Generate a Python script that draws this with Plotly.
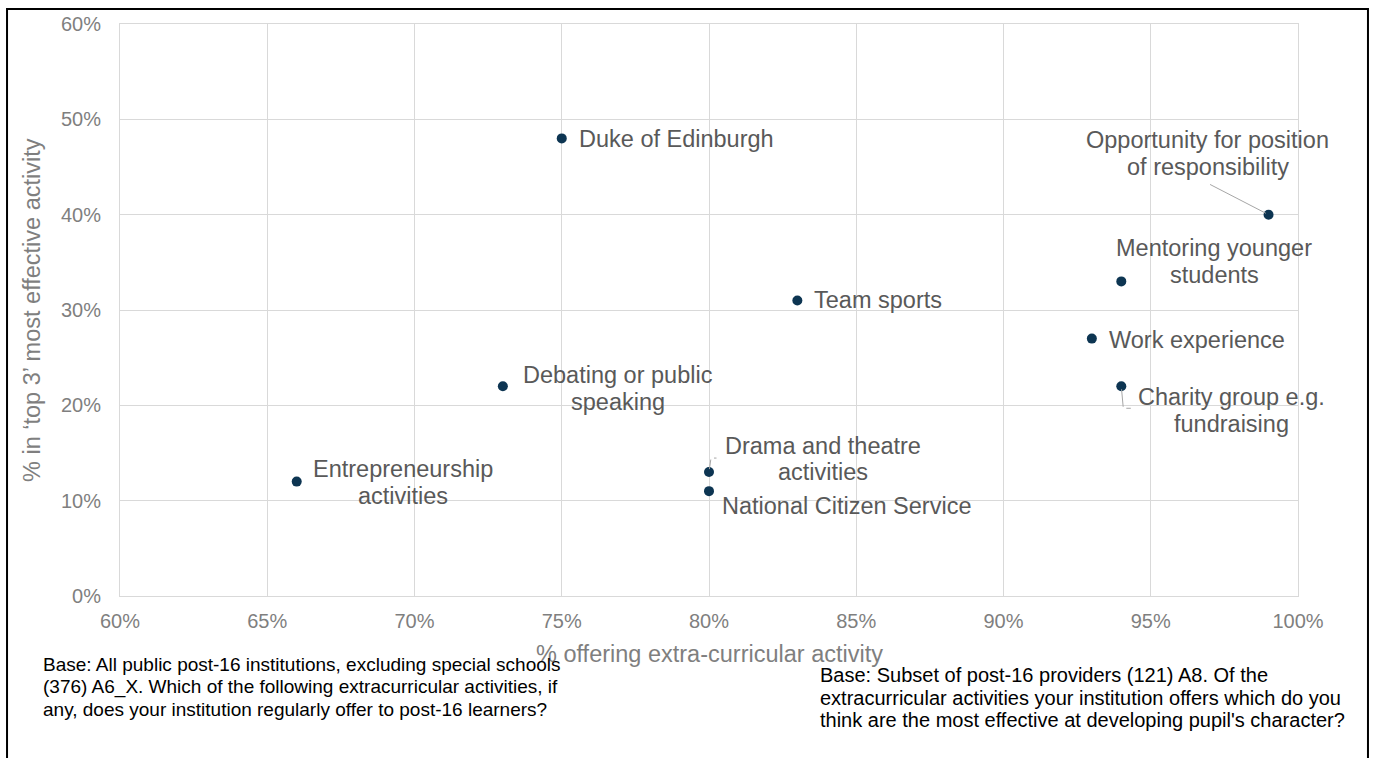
import plotly.graph_objects as go

# Extra-curricular activities: share offering each (x) vs share rating it top-3 most effective (y)
activities = [
    "Entrepreneurship activities",
    "Debating or public speaking",
    "Duke of Edinburgh",
    "Drama and theatre activities",
    "National Citizen Service",
    "Team sports",
    "Work experience",
    "Mentoring younger students",
    "Charity group e.g. fundraising",
    "Opportunity for position of responsibility",
]
pct_offering = [66, 73, 75, 80, 80, 83, 93, 94, 94, 99]
pct_top3 = [12, 22, 48, 13, 11, 31, 27, 33, 22, 40]

x_ticks = [60, 65, 70, 75, 80, 85, 90, 95, 100]
y_ticks = [0, 10, 20, 30, 40, 50, 60]

# label placement: wrapped lines, pixel shift of the block centre from the point, anchor
label_style = {
    "Entrepreneurship activities": (["Entrepreneurship", "activities"], 106, -1, "center"),
    "Debating or public speaking": (["Debating or public", "speaking"], 115, -2, "center"),
    "Duke of Edinburgh": (["Duke of Edinburgh"], 15, -1, "left"),
    "Drama and theatre activities": (["Drama and theatre", "activities"], 114, 13, "center"),
    "National Citizen Service": (["National Citizen Service"], 11, -15, "left"),
    "Team sports": (["Team sports"], 15, 0, "left"),
    "Work experience": (["Work experience"], 15, -1, "left"),
    "Mentoring younger students": (["Mentoring younger", "students"], 93, 20, "center"),
    "Charity group e.g. fundraising": (["Charity group e.g.", "fundraising"], 110, -24, "center"),
    "Opportunity for position of responsibility": (["Opportunity for position", "of responsibility"], -61, 61, "center"),
}
LINE_STEP = 26.5

# leader lines: (activity, shift x, shift y, tail dx, tail dy) in pixels
leaders = [
    ("Opportunity for position of responsibility", 0, 0, -60, -31),
    ("Drama and theatre activities", 0, 0, 2, -14),
    ("Drama and theatre activities", 2, 14, 7, 0),
    ("Charity group e.g. fundraising", 0, 0, 2, 22),
    ("Charity group e.g. fundraising", 2, -22, 9, 0),
]

TICK_GREY = "#7f7f7f"
LABEL_GREY = "#595959"
GRID = "#d9d9d9"
NAVY = "#0d3552"
FONT = "Liberation Sans, Arial, sans-serif"

fig = go.Figure()
fig.add_trace(go.Scatter(
    x=pct_offering, y=pct_top3, mode="markers",
    marker=dict(color=NAVY, size=10),
    hovertext=activities, hoverinfo="text", showlegend=False,
))

annotations = []
for name, xv, yv in zip(activities, pct_offering, pct_top3):
    lines, dx, dy, anchor = label_style[name]
    n = len(lines)
    for i, line in enumerate(lines):
        annotations.append(dict(
            x=xv, y=yv, xref="x", yref="y", text=line, showarrow=False,
            xanchor=anchor, yanchor="middle", xshift=dx,
            yshift=dy - (i - (n - 1) / 2) * LINE_STEP,
            font=dict(family=FONT, size=23.5, color=LABEL_GREY),
        ))

lookup = {n: (xv, yv) for n, xv, yv in zip(activities, pct_offering, pct_top3)}
for name, sx, sy, tx, ty in leaders:
    xv, yv = lookup[name]
    annotations.append(dict(
        x=xv, y=yv, xref="x", yref="y", text="", showarrow=True,
        arrowhead=0, arrowwidth=1, arrowcolor="#a6a6a6",
        ax=tx, ay=ty, xshift=sx, yshift=sy, standoff=3,
    ))

# axis titles
annotations.append(dict(
    x=0.5, y=0, xref="paper", yref="paper", yshift=-58, text="% offering extra-curricular activity",
    showarrow=False, xanchor="center", yanchor="middle",
    font=dict(family=FONT, size=23.5, color=TICK_GREY),
))
annotations.append(dict(
    x=0, y=0.5, xref="paper", yref="paper", xshift=-88, text="% in \u2018top 3\u2019 most effective activity",
    showarrow=False, xanchor="center", yanchor="middle", textangle=-90,
    font=dict(family=FONT, size=23.5, color=TICK_GREY),
))

# base notes under the chart
left_note = [
    "Base: All public post-16 institutions, excluding special schools",
    "(376) A6_X. Which of the following extracurricular activities, if",
    "any, does your institution regularly offer to post-16 learners?",
]
right_note = [
    "Base: Subset of post-16 providers (121) A8. Of the",
    "extracurricular activities your institution offers which do you",
    "think are the most effective at developing pupil's character?",
]
for i, line in enumerate(left_note):
    annotations.append(dict(
        x=0, y=0, xref="paper", yref="paper", xshift=-79, yshift=-68 - 22.5 * i,
        text=line, showarrow=False, xanchor="left", yanchor="middle",
        font=dict(family=FONT, size=19, color="#000000"),
    ))
for i, line in enumerate(right_note):
    annotations.append(dict(
        x=0, y=0, xref="paper", yref="paper", xshift=698, yshift=-79 - 22.5 * i,
        text=line, showarrow=False, xanchor="left", yanchor="middle",
        font=dict(family=FONT, size=20, color="#000000"),
    ))

fig.update_layout(
    width=1376, height=758,
    margin=dict(l=120, r=78, t=24, b=162),
    paper_bgcolor="white", plot_bgcolor="white",
    annotations=annotations,
    shapes=[dict(
        type="rect", xref="paper", yref="paper",
        x0=-0.0959, x1=1.0594, y0=-0.35, y1=1.0262,
        line=dict(color="black", width=2), fillcolor="rgba(0,0,0,0)", layer="above",
    )],
    xaxis=dict(
        range=[60, 100], tickvals=x_ticks, ticktext=[f"{v}%" for v in x_ticks],
        showgrid=True, gridcolor=GRID, gridwidth=1, zeroline=False,
        showline=True, linecolor=GRID, mirror=True,
        ticks="outside", ticklen=7, tickcolor="rgba(0,0,0,0)",
        tickfont=dict(family=FONT, size=20, color=TICK_GREY), fixedrange=True,
    ),
    yaxis=dict(
        range=[0, 60], tickvals=y_ticks, ticktext=[f"{v}%" for v in y_ticks],
        showgrid=True, gridcolor=GRID, gridwidth=1, zeroline=False,
        showline=True, linecolor=GRID, mirror=True,
        ticks="outside", ticklen=14, tickcolor="rgba(0,0,0,0)",
        tickfont=dict(family=FONT, size=20, color=TICK_GREY), fixedrange=True,
    ),
)

fig.write_html("out.html")
